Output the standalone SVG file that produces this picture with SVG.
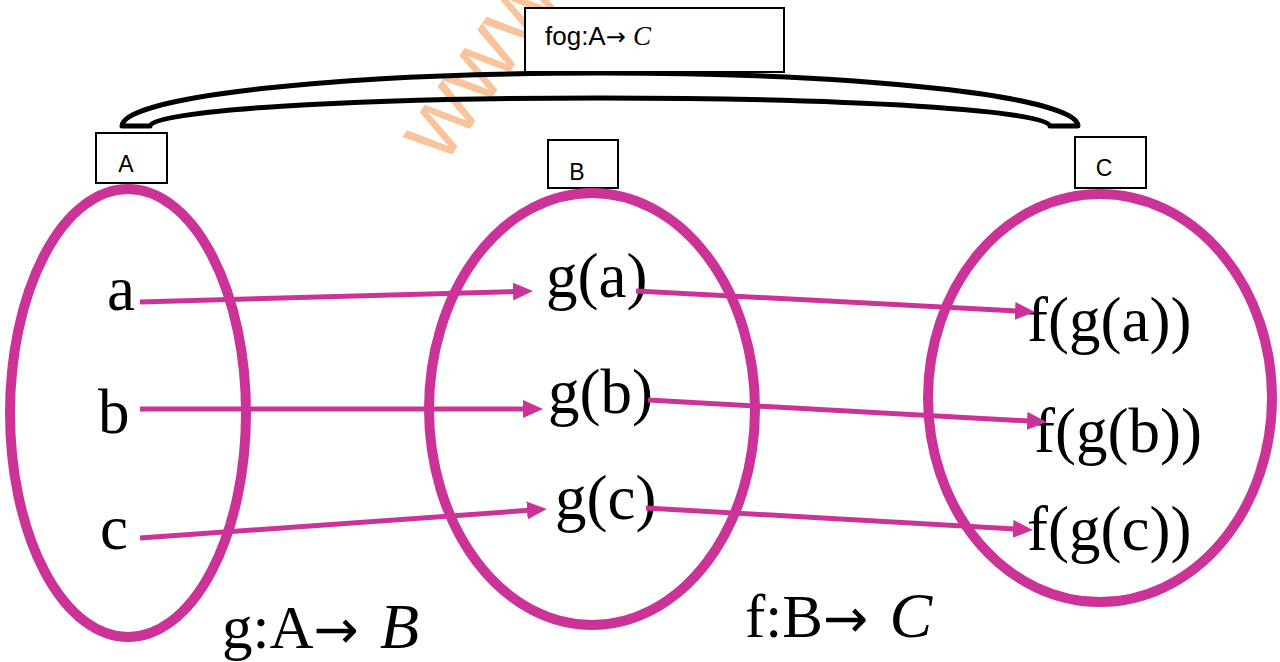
<svg xmlns="http://www.w3.org/2000/svg" width="1280" height="662" viewBox="0 0 1280 662">
<style>
.set{fill:none;stroke:#CC3399;stroke-width:10}
.box{fill:#fff;stroke:#000;stroke-width:2}
.lbl{font-family:"Liberation Sans",Arial,sans-serif;font-size:23px;fill:#000}
.fog{font-family:"Liberation Sans",Arial,sans-serif;font-size:26px;fill:#000}
.el{font-family:"Liberation Serif","Times New Roman",serif;font-size:63px;fill:#000}
.fn{font-family:"Liberation Serif","Times New Roman",serif;font-size:61px;fill:#000}
.it{font-style:italic}
.ar{font-family:"DejaVu Sans",sans-serif}
.arr{fill:none;stroke:#CC3399;stroke-width:5;marker-end:url(#ah)}
.wm{font-family:"Liberation Sans",Arial,sans-serif;font-size:96px;fill:#F9C49B}
</style>
<defs>
<marker id="ah" viewBox="0 0 20 18" markerWidth="20" markerHeight="18" refX="2" refY="9" orient="auto" markerUnits="userSpaceOnUse">
<path d="M0,0 L20,9 L0,18 Z" fill="#CC3399"/>
</marker>
</defs>
<rect width="1280" height="662" fill="#fff"/>
<text class="wm" transform="translate(444,166) rotate(-55)">www</text>
<g id="bracket">
<path d="M122,126 A478,53 0 0 1 1078,126 L1050,126 A450,28 0 0 0 150,126 Z" fill="none" stroke="#000" stroke-width="5" stroke-linejoin="round"/>
</g>
<g id="node-fog">
<rect class="box" x="525" y="8" width="259" height="64"/>
<text class="fog" x="545" y="45">fog:A<tspan class="ar" style="font-size:24px">→</tspan> <tspan class="it" style="font-family:'Liberation Serif',serif;font-size:27px">C</tspan></text>
</g>
<g id="node-A-label">
<rect class="box" x="96" y="133" width="71" height="50"/>
<text class="lbl" x="126" y="172" text-anchor="middle">A</text>
</g>
<g id="node-B-label">
<rect class="box" x="548" y="140" width="70" height="48"/>
<text class="lbl" x="577" y="180" text-anchor="middle">B</text>
</g>
<g id="node-C-label">
<rect class="box" x="1075" y="137" width="71" height="51"/>
<text class="lbl" x="1104" y="176" text-anchor="middle">C</text>
</g>
<g id="set-A">
<ellipse class="set" cx="128" cy="413" rx="118" ry="224"/>
<text class="el" x="107" y="310">a</text>
<text class="el" x="98" y="433">b</text>
<text class="el" x="100" y="549">c</text>
</g>
<g id="set-B">
<ellipse class="set" cx="592" cy="409" rx="163" ry="216"/>
<text class="el" x="546" y="297">g(a)</text>
<text class="el" x="548" y="413">g(b)</text>
<text class="el" x="555" y="519">g(c)</text>
</g>
<g id="set-C">
<ellipse class="set" cx="1100" cy="398" rx="172" ry="204"/>
<text class="el" x="1027" y="341">f(g(a))</text>
<text class="el" x="1034" y="452">f(g(b))</text>
<text class="el" x="1027" y="550">f(g(c))</text>
</g>
<g id="connectors">
<line class="arr" x1="140" y1="302" x2="515" y2="291.5"/>
<line class="arr" x1="140" y1="409" x2="525" y2="409"/>
<line class="arr" x1="140" y1="538" x2="529" y2="510.3"/>
<line class="arr" x1="636" y1="291" x2="1017" y2="311"/>
<line class="arr" x1="648" y1="400" x2="1029" y2="421"/>
<line class="arr" x1="646" y1="508" x2="1015" y2="529"/>
</g>
<g id="labels">
<text class="fn" x="222" y="648">g:A<tspan class="ar" style="font-size:54px">→</tspan> <tspan class="it" dx="6" style="font-size:64px">B</tspan></text>
<text class="fn" x="745" y="637">f:B<tspan class="ar" style="font-size:54px">→</tspan> <tspan class="it" dx="6" style="font-size:64px">C</tspan></text>
</g>
</svg>
